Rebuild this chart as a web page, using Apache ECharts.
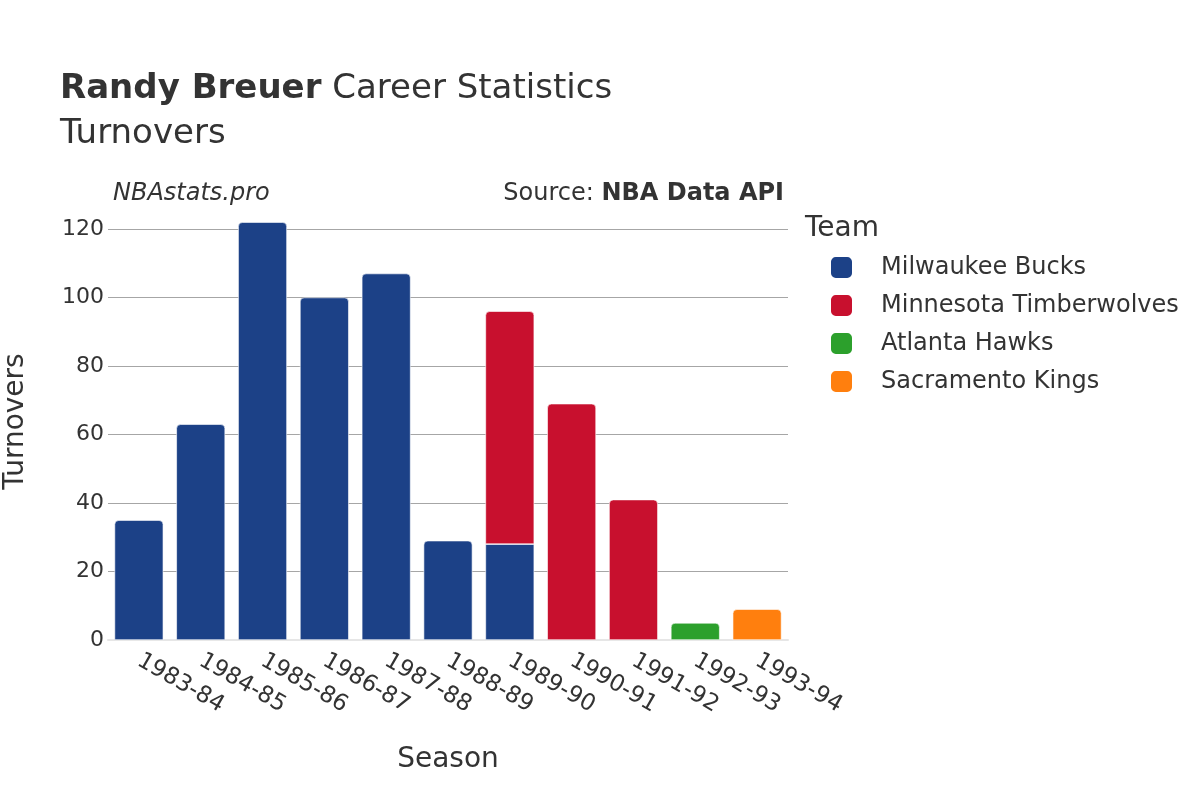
<!DOCTYPE html>
<html>
<head>
<meta charset="utf-8">
<script src="https://cdn.jsdelivr.net/npm/echarts@6/dist/echarts.min.js"></script>
<style>
  html, body { margin: 0; padding: 0; background: #fff; }
  #chart { width: 1200px; height: 800px; }
</style>
</head>
<body>
<div id="chart"></div>
<script>
// seasons on the x axis
const seasons = ['1983-84', '1984-85', '1985-86', '1986-87', '1987-88', '1988-89',
  '1989-90', '1990-91', '1991-92', '1992-93', '1993-94']
// turnovers per team, '-' where he didn't play for them
const bucks = [35, 63, 122, 100, 107, 29, 28, '-', '-', '-', '-']
const wolves = ['-', '-', '-', '-', '-', '-', 68, 69, 41, '-', '-']
const hawks = ['-', '-', '-', '-', '-', '-', '-', '-', '-', 5, '-']
const kings = ['-', '-', '-', '-', '-', '-', '-', '-', '-', '-', 9]
const yTicks = [0, 20, 40, 60, 80, 100, 120]

const teams = [
  { name: 'Milwaukee Bucks', color: '#1c4187', data: bucks },
  { name: 'Minnesota Timberwolves', color: '#c8102e', data: wolves },
  { name: 'Atlanta Hawks', color: '#2ca02c', data: hawks },
  { name: 'Sacramento Kings', color: '#ff7f0e', data: kings }
]

const font = 'DejaVu Sans'
const chart = echarts.init(document.getElementById('chart'))

// a segment only gets rounded corners if nothing is stacked on it
function isTop (teamIdx, i) {
  for (let k = teamIdx + 1; k < teams.length; k++) {
    if (teams[k].data[i] !== '-') return false
  }
  return true
}

const series = teams.map((t, idx) => ({
  name: t.name,
  type: 'bar',
  stack: 'total',
  clip: false,
  barCategoryGap: '21%',
  itemStyle: { color: t.color, borderColor: '#fff', borderWidth: 0.6 },
  data: t.data.map((v, i) => ({
    value: v,
    itemStyle: { borderRadius: isTop(idx, i) ? [4, 4, 0, 0] : 0 }
  }))
}))

chart.setOption({
  animation: false,
  textStyle: { fontFamily: font },
  title: [
    {
      left: 55,
      top: 67,
      text: '{b|Randy Breuer} {n|Career Statistics}',
      textStyle: {
        fontWeight: 'normal',
        fontSize: 34,
        rich: {
          b: { fontFamily: font, fontSize: 34, fontWeight: 'bold', color: '#333' },
          n: { fontFamily: font, fontSize: 34, fontWeight: 'normal', color: '#333' }
        }
      }
    },
    {
      left: 55,
      top: 112,
      text: 'Turnovers',
      textStyle: { fontFamily: font, fontSize: 34, fontWeight: 'normal', color: '#333' }
    },
    {
      left: 108,
      top: 177,
      text: 'NBAstats.pro',
      textStyle: { fontFamily: font, fontSize: 24, fontStyle: 'italic', fontWeight: 'normal', color: '#333' }
    },
    {
      right: 411,
      top: 177,
      text: '{n|Source: }{b|NBA Data API}',
      textStyle: {
        fontWeight: 'normal',
        fontSize: 24,
        rich: {
          n: { fontFamily: font, fontSize: 24, fontWeight: 'normal', color: '#333' },
          b: { fontFamily: font, fontSize: 24, fontWeight: 'bold', color: '#333' }
        }
      }
    },
    {
      left: 800,
      top: 210,
      text: 'Team',
      textStyle: { fontFamily: font, fontSize: 28, fontWeight: 'normal', color: '#333' }
    }
  ],
  legend: {
    orient: 'vertical',
    left: 824,
    top: 250,
    itemWidth: 23,
    itemHeight: 23,
    itemGap: 13,
    icon: 'roundRect',
    textStyle: { fontFamily: font, fontSize: 24, color: '#333', padding: [0, 0, 0, 23] },
    data: teams.map(t => t.name)
  },
  grid: { left: 108, right: 412, top: 229, bottom: 160, outerBoundsMode: 'none' },
  xAxis: {
    type: 'category',
    data: seasons,
    name: 'Season',
    nameLocation: 'middle',
    nameGap: 106,
    nameTextStyle: { fontFamily: font, fontSize: 28, color: '#333' },
    axisLine: { show: true, lineStyle: { color: '#e6e6e6', width: 2 } },
    axisTick: { show: false },
    axisLabel: {
      rotate: -30,
      fontFamily: font,
      fontSize: 23,
      color: '#333',
      margin: 19
    }
  },
  yAxis: {
    type: 'value',
    min: yTicks[0],
    max: yTicks[yTicks.length - 1],
    interval: 20,
    name: 'Turnovers',
    nameLocation: 'middle',
    nameGap: 78,
    nameTextStyle: { fontFamily: font, fontSize: 28, color: '#333', padding: [0, 0, 0, 26] },
    axisLine: { show: false },
    axisTick: { show: false },
    axisLabel: { fontFamily: font, fontSize: 22, color: '#333', margin: 4 },
    splitLine: { lineStyle: { color: '#a6a6a6', width: 1 } }
  },
  series: series
})
</script>
</body>
</html>
